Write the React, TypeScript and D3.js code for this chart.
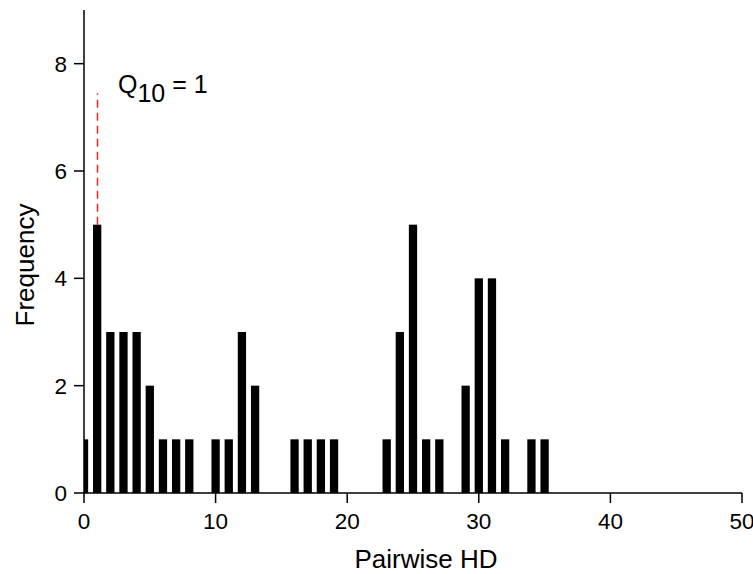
import React from "react";
import * as d3 from "d3";

const hdValues = [0,1,2,3,4,5,6,7,8,9,10,11,12,13,14,15,16,17,18,19,20,21,22,23,24,25,26,27,28,29,30,31,32,33,34,35];
const frequencies = [1,5,3,3,3,2,1,1,1,0,1,1,3,2,0,0,1,1,1,1,0,0,0,1,3,5,1,1,0,2,4,4,1,0,1,1];
const xTicks = [0,10,20,30,40,50];
const yTicks = [0,2,4,6,8];
const q10Value = 1;
const q10LineTop = 7.45;

const W = 753, H = 574;
const margin = { left: 84, right: 11, top: 10, bottom: 81 };

export default function App() {
  const x = d3.scaleLinear().domain([0, 50]).range([margin.left, W - margin.right]);
  const y = d3.scaleLinear().domain([0, 9]).range([H - margin.bottom, margin.top]);
  const barW = (x(1) - x(0)) * 0.63;
  const font = "'Liberation Sans', Arial, sans-serif";
  const y0 = y(0);
  const qx = Math.round(x(q10Value)) + 0.5;
  return (
    <svg width={W} height={H} style={{ position: "absolute", left: 0, top: 0, background: "#fff" }} fontFamily={font}>
      <defs>
        <clipPath id="plot">
          <rect x={x(0)} y={0} width={x(50) - x(0)} height={y0} />
        </clipPath>
      </defs>
      <g clipPath="url(#plot)">
        {hdValues.map((v, i) =>
          frequencies[i] > 0 ? (
            <rect key={v} x={x(v) - barW / 2} y={y(frequencies[i])} width={barW} height={y0 - y(frequencies[i])} fill="#000" />
          ) : null
        )}
      </g>
      <line x1={qx} x2={qx} y1={y(frequencies[q10Value])} y2={y(q10LineTop)} stroke="#ff1f1f" strokeWidth={1.5} strokeDasharray="8 5" />
      {/* axes */}
      <line x1={x(0)} x2={x(50)} y1={y0} y2={y0} stroke="#000" strokeWidth={1.5} />
      <line x1={x(0)} x2={x(0)} y1={y0} y2={y(9)} stroke="#000" strokeWidth={1.5} />
      {xTicks.map(t => (
        <g key={t}>
          <line x1={x(t)} x2={x(t)} y1={y0} y2={y0 + 10} stroke="#000" strokeWidth={1.5} />
          <text x={x(t)} y={529} textAnchor="middle" fontSize={22.5}>{t}</text>
        </g>
      ))}
      {yTicks.map(t => (
        <g key={t}>
          <line x1={x(0) - 10} x2={x(0)} y1={y(t)} y2={y(t)} stroke="#000" strokeWidth={1.5} />
          <text x={67} y={y(t)} dy="0.36em" textAnchor="end" fontSize={22.5}>{t}</text>
        </g>
      ))}
      <text x={426} y={568} textAnchor="middle" fontSize={26}>Pairwise HD</text>
      <text transform={`translate(34,265) rotate(-90)`} textAnchor="middle" fontSize={26}>Frequency</text>
      <text x={118} y={93} fontSize={25}>
        Q<tspan dy={9}>10</tspan><tspan dy={-9}> = 1</tspan>
      </text>
    </svg>
  );
}
